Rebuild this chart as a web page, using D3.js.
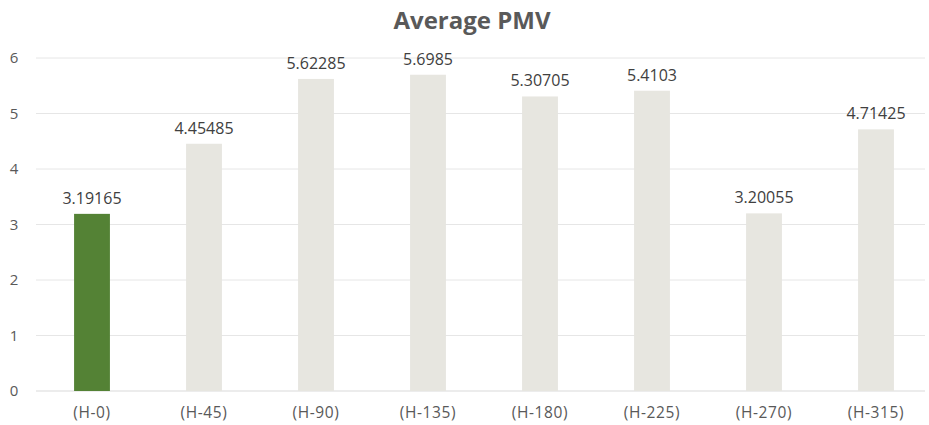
<!DOCTYPE html>
<html>
<head>
<meta charset="utf-8">
<script src="https://cdn.jsdelivr.net/npm/d3@7"></script>
<style>
  body { margin: 0; background: #fff; }
  text { font-family: "Open Sans", sans-serif; }
</style>
</head>
<body>
<svg width="929" height="425"></svg>
<script>
const categories = ['(H-0)', '(H-45)', '(H-90)', '(H-135)', '(H-180)', '(H-225)', '(H-270)', '(H-315)'];
const values = [3.19165, 4.45485, 5.62285, 5.6985, 5.30705, 5.4103, 3.20055, 4.71425];
const labels = ['3.19165', '4.45485', '5.62285', '5.6985', '5.30705', '5.4103', '3.20055', '4.71425'];
const yTicks = [0, 1, 2, 3, 4, 5, 6];

const svg = d3.select('svg');
const plotLeft = 36, plotRight = 932, plotTop = 58, plotBottom = 391;

const x = d3.scaleBand().domain(categories).range([plotLeft, plotRight]).paddingInner(0.68).paddingOuter(0.34);
const y = d3.scaleLinear().domain([0, 6]).range([plotBottom, plotTop]);

// gridlines
svg.append('g')
  .selectAll('line')
  .data(yTicks)
  .join('line')
  .attr('x1', 36)
  .attr('x2', 925)
  .attr('y1', d => y(d))
  .attr('y2', d => y(d))
  .attr('stroke', d => d == 0 ? '#d9d9d9' : '#e6e6e6')
  .attr('stroke-width', 1);

// y tick labels
svg.append('g')
  .selectAll('text')
  .data(yTicks)
  .join('text')
  .attr('x', 14)
  .attr('y', d => y(d))
  .attr('dy', '0.35em')
  .attr('text-anchor', 'middle')
  .attr('font-size', 15)
  .attr('fill', '#595959')
  .text(d => d);

// bars
svg.append('g')
  .selectAll('rect')
  .data(values)
  .join('rect')
  .attr('x', (d, i) => x(categories[i]))
  .attr('width', x.bandwidth())
  .attr('y', d => y(d))
  .attr('height', d => y(0) - y(d))
  .attr('fill', (d, i) => i == 0 ? '#548235' : '#e7e6e0');

// value labels
svg.append('g')
  .selectAll('text')
  .data(values)
  .join('text')
  .attr('x', (d, i) => x(categories[i]) + x.bandwidth() / 2)
  .attr('y', d => y(d) - 10)
  .attr('text-anchor', 'middle')
  .attr('font-size', 16)
  .attr('fill', '#404040')
  .text((d, i) => labels[i]);

// category labels
svg.append('g')
  .selectAll('text')
  .data(categories)
  .join('text')
  .attr('x', d => x(d) + x.bandwidth() / 2)
  .attr('y', 418)
  .attr('text-anchor', 'middle')
  .attr('font-size', 15.5)
  .attr('letter-spacing', 0.6)
  .attr('fill', '#595959')
  .text(d => d);

// title
svg.append('text')
  .attr('x', 472)
  .attr('y', 29)
  .attr('text-anchor', 'middle')
  .attr('font-size', 24)
  .attr('font-weight', 'bold')
  .attr('fill', '#595959')
  .text('Average PMV');
</script>
</body>
</html>
